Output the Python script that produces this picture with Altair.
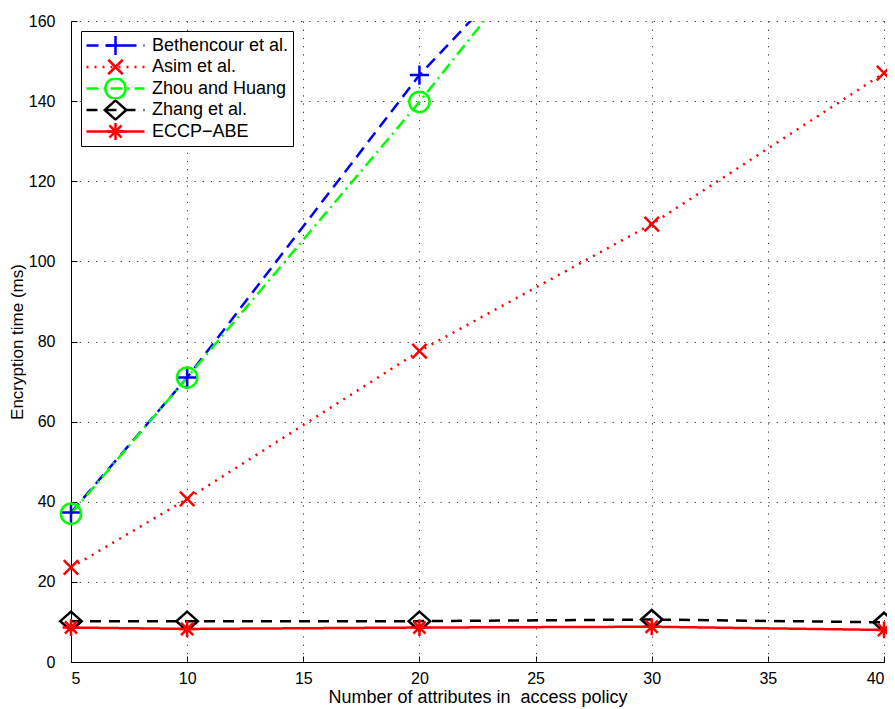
import altair as alt
import pandas as pd

x_vals = [5, 10, 20, 30, 40]
x_ticks = [5, 10, 15, 20, 25, 30, 35, 40]
y_ticks = [0, 20, 40, 60, 80, 100, 120, 140, 160]
series_names = ["Bethencour et al.", "Asim et al.", "Zhou and Huang", "Zhang et al.", "ECCP\u2212ABE"]
beth = [37.3, 71.0, 146.5, 208.0, 270.0]
asim = [23.6, 40.7, 77.6, 109.3, 147.0]
zhou = [37.0, 71.0, 139.8, 212.5, 285.0]
zhang = [10.2, 10.2, 10.2, 10.6, 9.9]
eccp = [8.6, 8.25, 8.6, 8.8, 8.0]

colors = ["#0000ff", "#ff0000", "#00ff00", "#000000", "#ff0000"]
dashes = [[12, 7], [2, 6], [12, 5, 2, 5], [11, 8], [1, 0]]
shapes = [
    "M-0.33,0L0.33,0M0,-0.33L0,0.33",
    "M-0.25,-0.25L0.25,0.25M-0.25,0.25L0.25,-0.25",
    "M0.35,0A0.35,0.35 0 1,1 -0.35,0A0.35,0.35 0 1,1 0.35,0Z",
    "M0,-0.33L0.37,0L0,0.33L-0.37,0Z",
    "M-0.29,0L0.29,0M0,-0.29L0,0.29M-0.21,-0.21L0.21,0.21M-0.21,0.21L0.21,-0.21",
]

rows = []
for i, (name, vals) in enumerate(zip(series_names, [beth, asim, zhou, zhang, eccp])):
    for xv, yv in zip(x_vals, vals):
        rows.append({"x": xv, "value": yv, "series": name, "order": i})
df = pd.DataFrame(rows)

FONT = "Liberation Sans"

x_scale = alt.Scale(domain=[5, 40], nice=False, zero=False)
y_scale = alt.Scale(domain=[0, 160], nice=False)

legend_common = dict(orient="none", legendX=10, legendY=10, title=None)

lines = alt.Chart(df).mark_line(clip=True, strokeWidth=2.5).encode(
    x=alt.X("x:Q", scale=x_scale,
            axis=alt.Axis(values=x_ticks, title="Number of attributes in \u00a0access policy",
                          orient="bottom")),
    y=alt.Y("value:Q", scale=y_scale,
            axis=alt.Axis(values=y_ticks, title="Encryption time (ms)", orient="left")),
    color=alt.Color("series:N", scale=alt.Scale(domain=series_names, range=colors),
                    legend=alt.Legend(fillColor="white", strokeColor="black", **legend_common)),
    strokeDash=alt.StrokeDash("series:N", scale=alt.Scale(domain=series_names, range=dashes),
                              legend=alt.Legend(fillColor="white", strokeColor="black", **legend_common)),
    order="x:Q",
)

srt = alt.EncodingSortField(field="order", op="min")
points = alt.Chart(df).mark_point(filled=False, strokeWidth=2.5, size=3364, opacity=1).encode(
    x=alt.X("x:Q", scale=x_scale,
            axis=alt.Axis(values=x_ticks, orient="bottom", offset=-6, tickSize=6,
                          labels=False, domain=False, grid=False, title=None)),
    y=alt.Y("value:Q", scale=y_scale,
            axis=alt.Axis(values=y_ticks, orient="left", offset=-6, tickSize=6,
                          labels=False, domain=False, grid=False, title=None)),
    stroke=alt.Stroke("series:N", sort=srt, scale=alt.Scale(range=colors),
                      legend=alt.Legend(labelOpacity=0, **legend_common)),
    shape=alt.Shape("series:N", sort=srt, scale=alt.Scale(range=shapes),
                    legend=alt.Legend(labelOpacity=0, **legend_common)),
).transform_filter("datum.value <= 160")

chart = alt.layer(lines, points).resolve_scale(
    color="independent", stroke="independent", shape="independent", strokeDash="independent"
).resolve_axis(
    x="independent", y="independent"
).properties(
    width=813, height=641,
    autosize=alt.AutoSizeParams(type="none"),
    padding={"left": 63, "top": 13, "right": 3, "bottom": 47},
).configure_view(
    strokeWidth=0
).configure_axis(
    labelFont=FONT, labelFontSize=16, labelColor="black",
    titleFont=FONT, titleFontSize=18, titleFontWeight="normal", titleColor="black",
    domainColor="black", tickSize=0, tickColor="black",
    gridColor="#333333", gridDash=[1.2, 7], gridOpacity=1, gridWidth=1,
).configure_axisX(
    labelPadding=8, titlePadding=2,
).configure_axisY(
    labelPadding=16, titlePadding=2, titleFontSize=17,
).configure_legend(
    labelFont=FONT, labelFontSize=18, labelColor="black",
    symbolSize=3364, symbolStrokeWidth=2.5, clipHeight=21, rowPadding=0.5,
    padding=4, labelOffset=6, symbolOffset=0, symbolLimit=0,
)

chart.save("out.html", embed_options={"renderer": "svg", "actions": False})
